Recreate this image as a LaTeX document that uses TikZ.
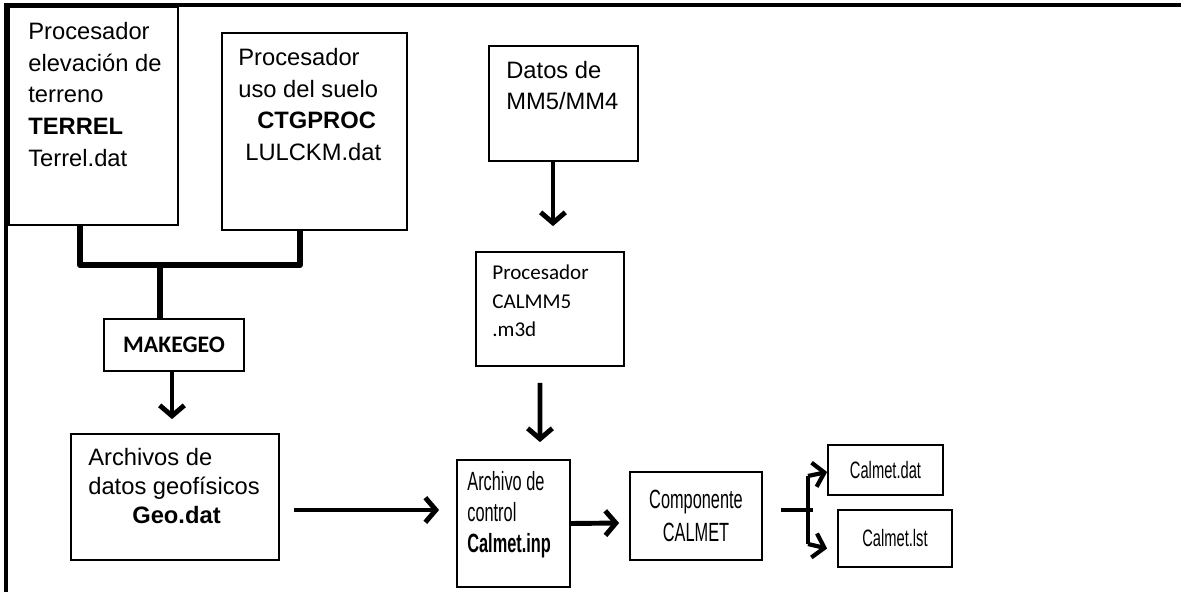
\documentclass[tikz,border=0pt]{standalone}
\usepackage{fontspec}
\setmainfont{Liberation Sans}
\newfontfamily\calibrifont{Carlito}
\newfontfamily\narrowfont[FakeStretch=0.62]{Liberation Sans}
\usetikzlibrary{arrows.meta, positioning, calc}

\begin{document}
\begin{tikzpicture}[
            x=0.02cm, y=-0.02cm,
            block/.style={rectangle, draw, line width=1pt, inner sep=0pt},
            txt/.style={align=left, inner sep=0pt, anchor=north west, font=\fontsize{13.5}{18}\selectfont},
            link/.style={line width=3.4pt, line join=round},
            arr/.style={line width=2.8pt, -{Straight Barb[length=6pt, width=14pt]}}
        ]

        \useasboundingbox (0,0) rectangle (1181,592);
        \draw[line width=2.4pt] (6,592) -- (6,5) -- (1181,5);

        % cajas
        \node[block, minimum width=3.38cm, minimum height=4.36cm] (terrel) at (93.5,116) {};
        \node[block, minimum width=3.70cm, minimum height=3.94cm] (ctgproc) at (314.5,131.5) {};
        \node[block, minimum width=2.80cm, minimum height=1.04cm] (makegeo) at (174,345) {};
        \node[block, minimum width=4.16cm, minimum height=2.52cm] (geo) at (175,497) {};
        \node[block, minimum width=2.98cm, minimum height=2.30cm] (mm5) at (563.5,103.5) {};
        \node[block, minimum width=2.96cm, minimum height=2.28cm] (calmm5) at (550,309) {};
        \node[block, minimum width=2.26cm, minimum height=2.54cm] (control) at (513.5,523.5) {};
        \node[block, minimum width=2.64cm, minimum height=1.76cm] (calmet) at (696,516) {};
        \node[block, minimum width=2.30cm, minimum height=1.00cm] (dat) at (885.5,470) {};
        \node[block, minimum width=2.28cm, minimum height=1.14cm] (lst) at (895,538.5) {};

        % textos
        \node[txt] (terreltxt) at (28,22) {Procesador\\elevación de\\terreno\\\textbf{TERREL}\\Terrel.dat};
        \node[txt] (ctgproctxt) at (238,48) {Procesador\\uso del suelo\\\hspace*{0.38cm}\textbf{CTGPROC}\\\hspace*{0.14cm}LULCKM.dat};
        \node[inner sep=0pt, font=\calibrifont\fontsize{13.5}{16}\selectfont\bfseries] (makegeotxt) at (makegeo.center) {MAKEGEO};
        \node[txt, font=\fontsize{13.5}{16.4}\selectfont] (geotxt) at (88,448) {Archivos de\\datos geofísicos\\\hspace*{0.88cm}\textbf{Geo.dat}};
        \node[txt, font=\fontsize{13.5}{17.6}\selectfont] (mm5txt) at (506,61) {Datos de\\MM5/MM4};
        \node[txt, font=\calibrifont\fontsize{12}{16.2}\selectfont] (calmm5txt) at (492,265) {Procesador\\CALMM5\\.m3d};
        \node[txt, font=\narrowfont\fontsize{15}{17.6}\selectfont] (controltxt) at (467,471) {Archivo de\\control\\\textbf{Calmet.inp}};
        \node[align=center, inner sep=0pt, font=\narrowfont\fontsize{15}{18.7}\selectfont] (calmettxt) at (calmet.center) {Componente\\CALMET};
        \node[inner sep=0pt, font=\narrowfont\fontsize{13.5}{15}\selectfont] (dattxt) at (dat.center) {Calmet.dat};
        \node[inner sep=0pt, font=\narrowfont\fontsize{13.5}{15}\selectfont] (lsttxt) at (lst.center) {Calmet.lst};

        % conexiones
        \coordinate (join) at (160,265);
        \draw[link] ([shift={(-13.5,0)}]terrel.south) |- (join) -| ([shift={(-14.5,0)}]ctgproc.south);
        \draw[link] (join) -- (makegeo.north -| join);
        \draw[arr] ([shift={(-2,0)}]makegeo.south) -- ([shift={(-3,-14)}]geo.north);
        \draw[arr] ([shift={(14,13)}]geo.east) -- ([shift={(-17,-13.5)}]control.west);
        \draw[arr] ([shift={(-10.5,0)}]mm5.south) -- ([shift={(3,-25)}]calmm5.north);
        \draw[arr] ([shift={(-10,16)}]calmm5.south) -- ([shift={(26.5,-17)}]control.north);
        \draw[arr] (control.east) -- ([shift={(-10,7)}]calmet.west);

        \coordinate (ftop) at (808,476);
        \coordinate (fbot) at (808,544);
        \draw[link, line width=2.8pt] ([shift={(18,-6)}]calmet.east) -- ++(32,0);
        \draw[link, line width=2.8pt] (ftop) -- (fbot);
        \draw[arr, line width=2.4pt] (ftop) -- ([shift={(0,2)}]dat.west);
        \draw[arr, line width=2.4pt] (fbot) -- ([shift={(-10,10)}]lst.west);

    \end{tikzpicture}
\end{document}
